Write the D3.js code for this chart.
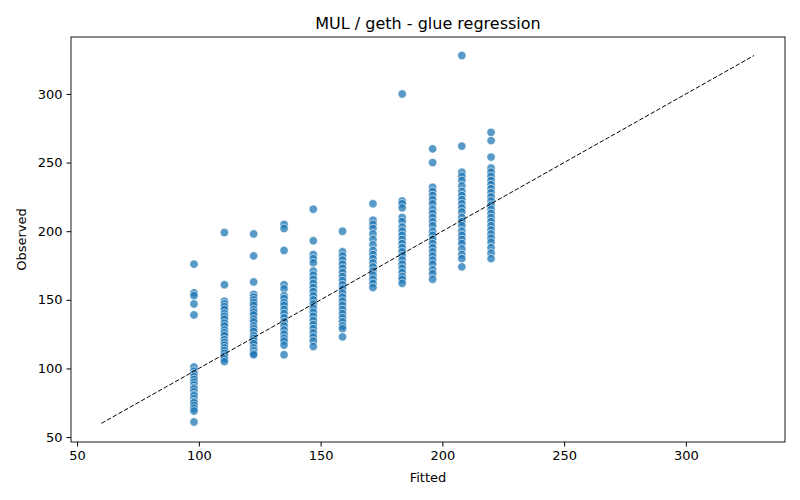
<!DOCTYPE html>
<html><head><meta charset="utf-8">
<script src="https://cdn.jsdelivr.net/npm/d3@7"></script>
<style>body{margin:0;background:#fff;font-family:"DejaVu Sans",sans-serif;}</style>
</head><body><svg id="chart" width="800" height="500"></svg>
<script>
// fitted value of each column, and observed values in it
var fitted = [98, 110.5, 122.5, 135, 147, 159, 171.5, 183.5, 196, 208, 220];
var observed = [
  [176,155,153,147,139,101,98,96,94,92,90,88,86,85,83,81,80,78,76,75,73,71,69,61],
  [199,161,149,147,145,143,140,138,136,133,131,128,126,124,121,119,117,115,113,111,109,107,105],
  [198,182,163,154,152,150,148,146,143,141,139,136,134,131,129,127,124,122,120,118,115,113,111,110],
  [205,202,186,161,158,153,151,148,146,143,140,137,134,131,128,125,122,120,117,110],
  [216,193,183,180,177,171,168,165,162,159,156,153,150,147,144,141,138,135,132,129,126,123,120,116],
  [200,185,182,179,176,173,170,167,164,161,158,155,152,149,146,143,140,137,134,131,129,123],
  [220,208,205,202,198,194,190,186,183,180,177,174,171,168,165,162,159],
  [300,222,220,217,210,207,203,200,197,194,191,188,185,182,179,176,173,170,167,165,162],
  [260,250,232,229,226,223,220,216,213,210,207,204,200,197,194,191,188,185,182,179,176,172,169,165],
  [328,262,243,240,237,233,229,226,223,220,217,214,210,207,204,200,197,194,191,187,183,180,174],
  [272,266,254,246,243,240,237,234,231,228,225,222,219,216,213,210,207,204,201,198,195,192,188,184,180]
];
var xTicks = [50, 100, 150, 200, 250, 300];
var yTicks = [50, 100, 150, 200, 250, 300];
var refLine = [60, 328];

var margin = {top: 37, right: 15, bottom: 58, left: 71};
var w = 800 - margin.left - margin.right, h = 500 - margin.top - margin.bottom;
var svg = d3.select("#chart");
var g = svg.append("g").attr("transform", "translate(" + margin.left + "," + margin.top + ")");

var x = d3.scaleLinear().domain([47.5, 340.7]).range([0, w]);
var y = d3.scaleLinear().domain([46.4, 341.5]).range([h, 0]);

var points = [];
fitted.forEach(function(f, i){
  observed[i].forEach(function(o){ points.push({f: f, o: o}); });
});

g.selectAll("circle").data(points).enter().append("circle")
  .attr("cx", function(d){ return x(d.f); })
  .attr("cy", function(d){ return y(d.o); })
  .attr("r", 4.2)
  .attr("fill", "#1f77b4").attr("fill-opacity", 0.75)
  .attr("stroke", "#fff").attr("stroke-width", 0.6);

g.append("line")
  .attr("x1", x(refLine[0])).attr("y1", y(refLine[0]))
  .attr("x2", x(refLine[1])).attr("y2", y(refLine[1]))
  .attr("stroke", "#000").attr("stroke-dasharray", "4.5,2").attr("stroke-width", 1);

var xa = g.append("g").attr("transform", "translate(0," + h + ")")
  .call(d3.axisBottom(x).tickValues(xTicks).tickSize(4.5).tickPadding(4));
var ya = g.append("g").call(d3.axisLeft(y).tickValues(yTicks).tickSize(4.5).tickPadding(4));
[xa, ya].forEach(function(a){
  a.selectAll("text").attr("font-size", 13).attr("font-family", "DejaVu Sans").attr("fill", "#000");
  a.select(".domain").remove();
});

g.append("rect").attr("width", w).attr("height", h)
  .attr("fill", "none").attr("stroke", "#000").attr("stroke-width", 0.9);

svg.append("text").attr("x", margin.left + w / 2).attr("y", 29).attr("text-anchor", "middle")
  .attr("font-size", 16).text("MUL / geth - glue regression");
svg.append("text").attr("x", margin.left + w / 2).attr("y", 482).attr("text-anchor", "middle")
  .attr("font-size", 13).text("Fitted");
svg.append("text").attr("transform", "translate(26," + (margin.top + h / 2) + ") rotate(-90)")
  .attr("text-anchor", "middle").attr("font-size", 13).text("Observed");
</script></body></html>
